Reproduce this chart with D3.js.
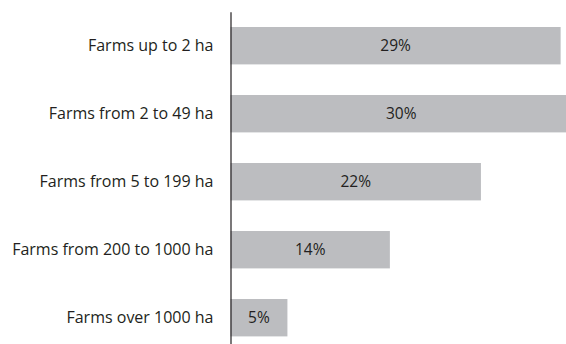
<!DOCTYPE html>
<html>
<head>
<meta charset="utf-8">
<script src="https://cdn.jsdelivr.net/npm/d3@7"></script>
<style>
  html, body { margin: 0; padding: 0; background: #fff; overflow: hidden; }
  svg { display: block; }
  text { font-family: "Open Sans", "Noto Sans", sans-serif; fill: #231f20; }
</style>
</head>
<body>
<svg id="chart" width="566" height="344"></svg>
<script>
// Share of farms by size class
const categories = [
  "Farms up to 2 ha",
  "Farms from 2 to 49 ha",
  "Farms from 5 to 199 ha",
  "Farms from 200 to 1000 ha",
  "Farms over 1000 ha"
];
const shares = [29, 30, 22, 14, 5];
const valueLabels = ["29%", "30%", "22%", "14%", "5%"];

const svg = d3.select("#chart");
const axisX = 230.5;
const fontSize = "16px";

const x = d3.scaleLinear().domain([0, 30]).range([axisX, axisX + 341.5]);
const y = d3.scaleBand()
  .domain(categories)
  .range([11.7, 351.7])
  .paddingInner(0.45)
  .paddingOuter(0.225);

const rows = categories.map((c, i) => ({ cat: c, value: shares[i], label: valueLabels[i] }));

svg.append("g").selectAll("rect")
  .data(rows)
  .join("rect")
  .attr("x", x(0))
  .attr("y", d => y(d.cat))
  .attr("width", d => x(d.value) - x(0))
  .attr("height", y.bandwidth())
  .attr("fill", "#bcbdc0");

svg.append("g").selectAll("text")
  .data(rows)
  .join("text")
  .attr("x", d => (x(0) + x(d.value)) / 2)
  .attr("y", d => y(d.cat) + y.bandwidth() / 2)
  .attr("dy", "0.36em")
  .attr("text-anchor", "middle")
  .style("font-size", "15.5px")
  .text(d => d.label);

const axis = svg.append("g")
  .attr("transform", `translate(${axisX},0)`)
  .call(d3.axisLeft(y).tickSize(0).tickSizeOuter(0).tickPadding(17));
axis.select(".domain").attr("stroke", "#231f20").attr("stroke-width", 1.2);
axis.selectAll(".tick text")
  .style("font-size", fontSize)
  .style("font-family", "'Open Sans', 'Noto Sans', sans-serif")
  .attr("fill", "#231f20")
  .attr("dy", "0.36em");
</script>
</body>
</html>
